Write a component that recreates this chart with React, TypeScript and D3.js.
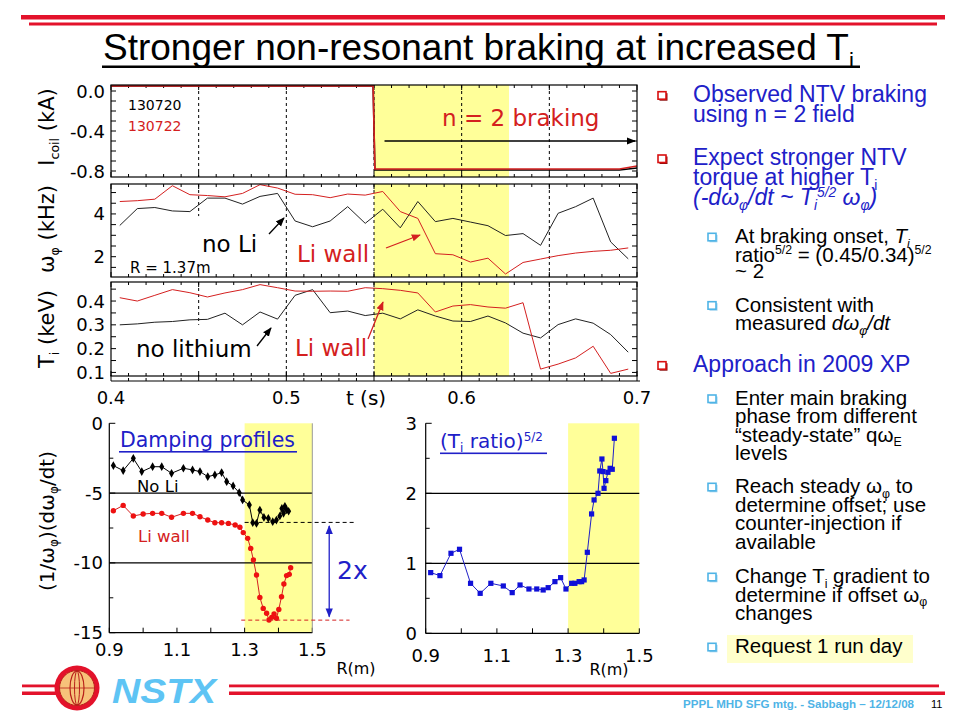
import * as d3 from "d3";

// ---- time traces (s) ----
const tTrace = [0.405, 0.415, 0.425, 0.435, 0.445, 0.455, 0.465, 0.475, 0.485, 0.495, 0.505, 0.515, 0.525, 0.535, 0.545, 0.555, 0.565, 0.575, 0.585, 0.595, 0.605, 0.615, 0.625, 0.635, 0.645, 0.655, 0.665, 0.675, 0.685, 0.695];
// omega_phi (kHz) at R = 1.37 m
const omegaNoLi = [3.46, 4.25, 4.30, 4.14, 4.11, 4.74, 4.74, 4.46, 4.82, 4.96, 3.67, 3.40, 3.67, 4.34, 3.56, 4.22, 3.35, 4.58, 3.64, 3.79, 3.62, 3.45, 2.99, 3.08, 2.53, 4.03, 4.34, 4.74, 2.69, 1.90];
const omegaLiWall = [4.58, 4.62, 4.69, 5.32, 4.90, 4.86, 4.80, 4.96, 5.37, 5.21, 4.92, 4.90, 4.76, 4.93, 4.88, 5.05, 4.11, 3.79, 2.14, 2.09, 1.75, 1.93, 1.19, 1.73, 1.89, 2.05, 2.17, 2.25, 2.30, 2.41];
// Ti (keV)
const tiNoLi = [0.300, 0.304, 0.311, 0.314, 0.321, 0.323, 0.349, 0.300, 0.354, 0.324, 0.424, 0.448, 0.351, 0.358, 0.339, 0.349, 0.325, 0.363, 0.337, 0.316, 0.314, 0.337, 0.308, 0.265, 0.245, 0.301, 0.325, 0.307, 0.259, 0.185];
const tiLiWall = [0.414, 0.400, 0.424, 0.448, 0.435, 0.417, 0.434, 0.448, 0.469, 0.456, 0.442, 0.441, 0.442, 0.441, 0.456, 0.452, 0.445, 0.434, 0.354, 0.379, 0.385, 0.375, 0.370, 0.393, 0.114, 0.135, 0.161, 0.210, 0.096, 0.114];
// coil current (kA)
const tCoil = [0.4, 0.5495, 0.5505, 0.69, 0.7];
const coil130720 = [0.05, 0.05, -0.79, -0.79, -0.77];
const coil130722 = [0.05, 0.05, -0.78, -0.78, -0.75];

const brakingWindow = [0.55, 0.627];
const guideTimes = [0.45, 0.5, 0.55, 0.6, 0.65];
const timeLabels = [0.4, 0.5, 0.6, 0.7];

// ---- radial profiles ----
const rNoLi = [0.912, 0.941, 0.971, 0.996, 1.028, 1.055, 1.084, 1.119, 1.146, 1.168, 1.191, 1.212, 1.232, 1.247, 1.266, 1.284, 1.294, 1.314, 1.324, 1.335, 1.345, 1.357, 1.370, 1.383, 1.394, 1.404, 1.410, 1.415, 1.419, 1.424, 1.430];
const dampNoLi = [-3.03, -3.39, -2.51, -3.46, -3.11, -3.11, -3.58, -3.22, -3.34, -3.46, -3.82, -3.70, -3.53, -4.18, -4.49, -4.97, -5.49, -5.85, -7.12, -7.17, -6.21, -6.74, -6.81, -7.05, -6.93, -6.64, -6.10, -6.45, -5.95, -6.20, -6.30];
const rLiWall = [0.912, 0.941, 0.971, 1.000, 1.028, 1.055, 1.084, 1.119, 1.146, 1.168, 1.191, 1.212, 1.232, 1.252, 1.272, 1.286, 1.296, 1.309, 1.318, 1.326, 1.335, 1.345, 1.355, 1.365, 1.372, 1.380, 1.387, 1.394, 1.401, 1.409, 1.416, 1.424, 1.432, 1.436];
const dampLiWall = [-6.26, -5.88, -6.64, -6.50, -6.45, -6.45, -6.73, -6.45, -6.45, -6.69, -6.93, -7.12, -7.12, -7.17, -7.28, -7.45, -7.83, -8.24, -8.96, -9.79, -10.87, -12.47, -13.26, -13.61, -14.09, -13.90, -13.66, -13.97, -13.33, -12.42, -11.51, -10.91, -10.82, -10.34];
const rRatio = [0.914, 0.940, 0.971, 0.995, 1.026, 1.053, 1.083, 1.118, 1.143, 1.165, 1.190, 1.212, 1.230, 1.244, 1.263, 1.279, 1.294, 1.310, 1.319, 1.331, 1.338, 1.345, 1.354, 1.366, 1.373, 1.384, 1.389, 1.395, 1.398, 1.401, 1.406, 1.412, 1.418, 1.424, 1.430];
const tiRatio = [0.867, 0.824, 1.143, 1.200, 0.714, 0.571, 0.714, 0.676, 0.581, 0.690, 0.633, 0.633, 0.619, 0.652, 0.738, 0.795, 0.633, 0.714, 0.714, 0.738, 0.738, 0.762, 1.157, 1.705, 1.905, 2.000, 2.319, 2.490, 2.310, 2.071, 2.181, 2.300, 2.357, 2.343, 2.786];
const profileWindow = [1.3, 1.5];
const rLabels = [0.9, 1.1, 1.3, 1.5];
const dampLabels = [0, -5, -10, -15];
const ratioLabels = [0, 1, 2, 3];

const PLOT_FONT = "DejaVu Sans, Verdana, sans-serif";
const SLIDE_FONT = "Liberation Sans, Arial, Helvetica, sans-serif";
const BLUE = "#2020c8";
const RED = "#d42020";
const SLIDE_RED = "#e3122b";
const YELLOW = "#ffff99";
const SKY = "#4fb4e6";

type Seg = { s: string; sub?: boolean; sup?: boolean; it?: boolean };

function Rich(props: any) {
    const { x = 0, y = 0, segs, size, fill = "#000", family = SLIDE_FONT, anchor = "start", transform, weight } = props;
    let level = 0;
    const spans = segs.map((g: Seg, i: number) => {
        const target = g.sub ? size * 0.22 : g.sup ? -size * 0.36 : 0;
        const dy = target - level;
        level = target;
        return (
            <tspan key={i} dy={dy} fontSize={g.sub || g.sup ? size * 0.6 : size} fontStyle={g.it ? "italic" : "normal"}>
                {g.s}
            </tspan>
        );
    });
    return (
        <text x={x} y={y} fill={fill} fontFamily={family} textAnchor={anchor} transform={transform}
            fontWeight={weight} style={{ whiteSpace: "pre" }}>
            {spans}
        </text>
    );
}

function linePath(xs: number[], ys: number[], sx: any, sy: any) {
    return d3.line<number>().x((_, i) => sx(xs[i])).y((d) => sy(d))(ys) || "";
}

const xT = d3.scaleLinear().domain([0.4, 0.7]).range([111, 637]);

const panels = [
    { top: 85, bottom: 177, domain: [-0.86, 0.06], labels: [0, -0.4, -0.8], minor: 0.1, early: null as null | number },
    { top: 184, bottom: 277, domain: [1.05, 5.4], labels: [2, 4], minor: 0.5, early: 3.9 },
    { top: 282, bottom: 376, domain: [0.085, 0.48], labels: [0.1, 0.2, 0.3, 0.4], minor: 0.05, early: 0.3 },
];
const panelScales = panels.map((p) => d3.scaleLinear().domain(p.domain).range([p.bottom, p.top]));

function TimePanel({ idx, children }: any) {
    const p = panels[idx];
    const y = panelScales[idx];
    const [x0, x1] = xT.range();
    const minors = d3.range(Math.ceil(p.domain[0] / p.minor - 1e-9), Math.floor(p.domain[1] / p.minor + 1e-9) + 1).map((k) => k * p.minor);
    const tTicks = d3.range(40, 71).map((k) => k / 100);
    return (
        <g>
            <rect x={xT(brakingWindow[0])} y={p.top} width={xT(brakingWindow[1]) - xT(brakingWindow[0])} height={p.bottom - p.top} fill={YELLOW} />
            {guideTimes.map((t) => (
                <line key={t} x1={xT(t)} x2={xT(t)} y1={p.top} y2={t === 0.45 && p.early !== null ? y(p.early) : p.bottom}
                    stroke="#000" strokeWidth={1} strokeDasharray="3,3" />
            ))}
            {minors.map((v, i) => (
                <g key={i}>
                    <line x1={x0} x2={x0 + 5} y1={y(v)} y2={y(v)} stroke="#000" />
                    <line x1={x1} x2={x1 - 5} y1={y(v)} y2={y(v)} stroke="#000" />
                </g>
            ))}
            {tTicks.map((t, i) => {
                const len = i % 5 === 0 ? 5 : 3;
                return (
                    <g key={"t" + i}>
                        <line x1={xT(t)} x2={xT(t)} y1={p.top} y2={p.top + len} stroke="#000" />
                        <line x1={xT(t)} x2={xT(t)} y1={p.bottom} y2={p.bottom - len} stroke="#000" />
                    </g>
                );
            })}
            {children}
            <rect x={x0} y={p.top} width={x1 - x0} height={p.bottom - p.top} fill="none" stroke="#000" strokeWidth={1.2} />
            {p.labels.map((v) => (
                <text key={v} x={105} y={y(v) + 6.5} textAnchor="end" fontFamily={PLOT_FONT} fontSize={18}>
                    {idx === 1 ? String(v) : v.toFixed(1)}
                </text>
            ))}
        </g>
    );
}

function Bullet({ x, y, color, shadow }: any) {
    return (
        <g>
            <rect x={x + 1.5} y={y + 1.5} width={8} height={7.5} fill={shadow} />
            <rect x={x} y={y} width={8} height={7.5} fill="#fff" stroke={color} strokeWidth={1.6} />
        </g>
    );
}

const mainLines: { y: number; segs: Seg[] }[] = [
    { y: 101.7, segs: [{ s: "Observed NTV braking" }] },
    { y: 121.7, segs: [{ s: "using n = 2 field" }] },
    { y: 165, segs: [{ s: "Expect stronger NTV" }] },
    { y: 185, segs: [{ s: "torque at higher T" }, { s: "i", sub: true }] },
    {
        y: 205, segs: [{ s: "(-d", it: true }, { s: "ω", it: true }, { s: "φ", sub: true, it: true }, { s: "/dt ~ T", it: true },
        { s: "i", sub: true, it: true }, { s: "5/2", sup: true, it: true }, { s: " ω", it: true }, { s: "φ", sub: true, it: true }, { s: ")", it: true }]
    },
    { y: 371.7, segs: [{ s: "Approach in 2009 XP" }] },
];
const mainBulletYs = [101.7, 165, 371.7];

const subLines: { y: number; segs: Seg[] }[] = [
    { y: 243.3, segs: [{ s: "At braking onset, " }, { s: "T", it: true }, { s: "i", sub: true, it: true }] },
    { y: 261.7, segs: [{ s: "ratio" }, { s: "5/2", sup: true }, { s: " = (0.45/0.34)" }, { s: "5/2", sup: true }] },
    { y: 278.3, segs: [{ s: "~ 2" }] },
    { y: 311.7, segs: [{ s: "Consistent with" }] },
    { y: 330, segs: [{ s: "measured " }, { s: "dω", it: true }, { s: "φ", sub: true, it: true }, { s: "/dt", it: true }] },
    { y: 405, segs: [{ s: "Enter main braking" }] },
    { y: 423.3, segs: [{ s: "phase from different" }] },
    { y: 441.7, segs: [{ s: "\u201csteady-state\u201d qω" }, { s: "E", sub: true }] },
    { y: 460, segs: [{ s: "levels" }] },
    { y: 493.3, segs: [{ s: "Reach steady ω" }, { s: "φ", sub: true }, { s: " to" }] },
    { y: 511.7, segs: [{ s: "determine offset; use" }] },
    { y: 530, segs: [{ s: "counter-injection if" }] },
    { y: 549, segs: [{ s: "available" }] },
    { y: 583.3, segs: [{ s: "Change T" }, { s: "i", sub: true }, { s: " gradient to" }] },
    { y: 601.7, segs: [{ s: "determine if offset ω" }, { s: "φ", sub: true }] },
    { y: 620, segs: [{ s: "changes" }] },
    { y: 653.3, segs: [{ s: "Request 1 run day" }] },
];
const subBulletYs = [243.3, 311.7, 405, 493.3, 583.3, 653.3];

export default function App() {
    // radial profile scales
    const xR1 = d3.scaleLinear().domain([0.9, 1.5]).range([109.3, 312.3]);
    const yDamp = d3.scaleLinear().domain([-15, 0]).range([632.7, 423.3]);
    const xR2 = d3.scaleLinear().domain([0.9, 1.5]).range([425.7, 639.3]);
    const yRat = d3.scaleLinear().domain([0, 3]).range([633.3, 423.3]);
    const [yC, yW, yTi] = panelScales;

    const diamond = d3.symbol().type(d3.symbolDiamond).size(22)() || "";

    return (
        <svg width={960} height={720} viewBox="0 0 960 720"
            style={{ position: "absolute", left: 0, top: 0, background: "#fff", display: "block" }}>
            <defs>
                {[["arrK", "#000"], ["arrR", RED], ["arrB", BLUE]].map(([id, c]) => (
                    <marker key={id} id={id} viewBox="0 0 10 10" refX={9} refY={5} markerWidth={7} markerHeight={7} orient="auto-start-reverse">
                        <path d="M0,1 L10,5 L0,9 Z" fill={c} />
                    </marker>
                ))}
            </defs>
            <rect width={960} height={720} fill="#fff" />

            {/* header */}
            <rect x={21} y={15} width={924} height={4.5} fill={SLIDE_RED} />
            <rect x={29} y={22.5} width={908} height={3} fill={SLIDE_RED} />
            <Rich x={103} y={60} size={37} segs={[{ s: "Stronger non-resonant braking at increased T" }, { s: "i", sub: true }]} />
            <rect x={102} y={65.5} width={758} height={2.5} fill="#000" />

            {/* time traces */}
            <TimePanel idx={0}>
                <path d={linePath(tCoil, coil130720, xT, yC)} fill="none" stroke="#000" strokeWidth={1.6} />
                <path d={linePath(tCoil, coil130722, xT, yC)} fill="none" stroke={RED} strokeWidth={1.6} />
                <text x={128} y={110} fontFamily={PLOT_FONT} fontSize={14}>130720</text>
                <text x={128} y={131} fontFamily={PLOT_FONT} fontSize={14} fill={RED}>130722</text>
                <text x={442} y={126} fontFamily={PLOT_FONT} fontSize={23} fill={RED}>n = 2 braking</text>
                <line x1={xT(0.556)} x2={xT(0.7) - 2} y1={yC(-0.5)} y2={yC(-0.5)} stroke="#000" strokeWidth={1.3} markerEnd="url(#arrK)" />
            </TimePanel>
            <TimePanel idx={1}>
                <path d={linePath(tTrace, omegaNoLi, xT, yW)} fill="none" stroke="#222" strokeWidth={1} />
                <path d={linePath(tTrace, omegaLiWall, xT, yW)} fill="none" stroke={RED} strokeWidth={1} />
                <text x={202} y={252} fontFamily={PLOT_FONT} fontSize={23}>no Li</text>
                <text x={297} y={262} fontFamily={PLOT_FONT} fontSize={23} fill={RED}>Li wall</text>
                <text x={130} y={273} fontFamily={PLOT_FONT} fontSize={15}>R = 1.37m</text>
                <line x1={269} y1={234} x2={284} y2={218} stroke="#000" strokeWidth={1.3} markerEnd="url(#arrK)" />
                <line x1={386} y1={248} x2={420} y2={235} stroke={RED} strokeWidth={1.3} markerEnd="url(#arrR)" />
            </TimePanel>
            <TimePanel idx={2}>
                <path d={linePath(tTrace, tiNoLi, xT, yTi)} fill="none" stroke="#222" strokeWidth={1} />
                <path d={linePath(tTrace, tiLiWall, xT, yTi)} fill="none" stroke={RED} strokeWidth={1} />
                <text x={136} y={357} fontFamily={PLOT_FONT} fontSize={23}>no lithium</text>
                <text x={295} y={356} fontFamily={PLOT_FONT} fontSize={23} fill={RED}>Li wall</text>
                <line x1={257} y1={346} x2={271} y2={328} stroke="#000" strokeWidth={1.3} markerEnd="url(#arrK)" />
                <line x1={368} y1={339} x2={383} y2={302} stroke={RED} strokeWidth={1.3} markerEnd="url(#arrR)" />
            </TimePanel>

            {/* time axis */}
            <line x1={111} x2={640} y1={381} y2={381} stroke="#000" strokeWidth={1.2} />
            {d3.range(40, 71).map((k, i) => (
                <line key={k} x1={xT(k / 100)} x2={xT(k / 100)} y1={381} y2={381 - (i % 5 === 0 ? 6 : 3)} stroke="#000" />
            ))}
            {timeLabels.map((t) => (
                <text key={t} x={xT(t)} y={404} textAnchor="middle" fontFamily={PLOT_FONT} fontSize={18}>{t.toFixed(1)}</text>
            ))}
            <text x={366} y={405} textAnchor="middle" fontFamily={PLOT_FONT} fontSize={20}>t (s)</text>

            {/* y axis titles of time traces */}
            <Rich transform="translate(47,127) rotate(-90)" y={7} anchor="middle" size={21} family={PLOT_FONT}
                segs={[{ s: "I" }, { s: "coil", sub: true }, { s: " (kA)" }]} />
            <Rich transform="translate(47,229) rotate(-90)" y={7} anchor="middle" size={21} family={PLOT_FONT}
                segs={[{ s: "ω" }, { s: "φ", sub: true }, { s: " (kHz)" }]} />
            <Rich transform="translate(47,329) rotate(-90)" y={7} anchor="middle" size={21} family={PLOT_FONT}
                segs={[{ s: "T" }, { s: "i", sub: true }, { s: " (keV)" }]} />

            {/* damping profiles */}
            <rect x={xR1(profileWindow[0])} y={yDamp(0)} width={xR1(profileWindow[1]) - xR1(profileWindow[0])} height={yDamp(-15) - yDamp(0)} fill={YELLOW} />
            {[-5, -10].map((v) => (
                <line key={v} x1={xR1(0.9)} x2={xR1(1.5)} y1={yDamp(v)} y2={yDamp(v)} stroke="#000" strokeWidth={1.2} />
            ))}
            {d3.range(-15, 0.1, 2.5).map((v) => (
                <line key={v} x1={xR1(0.9)} x2={xR1(0.9) + (v % 5 === 0 ? 6 : 4)} y1={yDamp(v)} y2={yDamp(v)} stroke="#000" />
            ))}
            {[0.9, 1.0, 1.1, 1.2, 1.3, 1.4, 1.5].map((r) => (
                <line key={r} x1={xR1(r)} x2={xR1(r)} y1={yDamp(-15)} y2={yDamp(-15) - 5} stroke="#000" />
            ))}
            <line x1={xR1(0.9)} x2={xR1(0.9)} y1={yDamp(0)} y2={yDamp(-15)} stroke="#000" strokeWidth={1.2} />
            <line x1={xR1(0.9)} x2={xR1(1.5)} y1={yDamp(-15)} y2={yDamp(-15)} stroke="#000" strokeWidth={1.2} />
            <line x1={xR1(1.5)} x2={xR1(1.5)} y1={yDamp(0)} y2={yDamp(-15)} stroke="#999" strokeWidth={1} />
            <path d={linePath(rNoLi, dampNoLi, xR1, yDamp)} fill="none" stroke="#000" strokeWidth={1} />
            {rNoLi.map((r, i) => (
                <path key={i} d={diamond} transform={`translate(${xR1(r)},${yDamp(dampNoLi[i])})`} fill="#000" />
            ))}
            <path d={linePath(rLiWall, dampLiWall, xR1, yDamp)} fill="none" stroke={RED} strokeWidth={1} />
            {rLiWall.map((r, i) => (
                <circle key={i} cx={xR1(r)} cy={yDamp(dampLiWall[i])} r={2.7} fill="#ee1111" />
            ))}
            <line x1={xR1(1.3)} x2={xR1(1.626)} y1={yDamp(-7.1)} y2={yDamp(-7.1)} stroke="#000" strokeDasharray="4,3" />
            <line x1={xR1(1.29)} x2={xR1(1.61)} y1={yDamp(-14.1)} y2={yDamp(-14.1)} stroke={RED} strokeDasharray="4,3" />
            <line x1={xR1(1.55)} x2={xR1(1.55)} y1={yDamp(-7.35)} y2={yDamp(-13.85)} stroke={BLUE} strokeWidth={1.3}
                markerStart="url(#arrB)" markerEnd="url(#arrB)" />
            <text x={337} y={579} fontFamily={PLOT_FONT} fontSize={25} fill={BLUE}>2x</text>
            <text x={120} y={447} fontFamily={PLOT_FONT} fontSize={20.5} fill={BLUE}>Damping profiles</text>
            <rect x={119} y={451} width={178} height={1.6} fill={BLUE} />
            <text x={137} y={492} fontFamily={PLOT_FONT} fontSize={16.5}>No Li</text>
            <text x={138} y={542} fontFamily={PLOT_FONT} fontSize={16.5} fill={RED}>Li wall</text>
            {dampLabels.map((v) => (
                <text key={v} x={103} y={yDamp(v) + 6.5} textAnchor="end" fontFamily={PLOT_FONT} fontSize={18}>{String(v)}</text>
            ))}
            {rLabels.map((r) => (
                <text key={r} x={xR1(r)} y={656} textAnchor="middle" fontFamily={PLOT_FONT} fontSize={18}>{r.toFixed(1)}</text>
            ))}
            <text x={356} y={674} textAnchor="middle" fontFamily={PLOT_FONT} fontSize={16}>R(m)</text>
            <Rich transform="translate(47,521) rotate(-90)" y={7} anchor="middle" size={20} family={PLOT_FONT}
                segs={[{ s: "(1/ω" }, { s: "φ", sub: true }, { s: ")(dω" }, { s: "φ", sub: true }, { s: "/dt)" }]} />

            {/* Ti ratio profile */}
            <rect x={xR2(profileWindow[0])} y={yRat(3)} width={xR2(profileWindow[1]) - xR2(profileWindow[0])} height={yRat(0) - yRat(3)} fill={YELLOW} />
            {[1, 2].map((v) => (
                <line key={v} x1={xR2(0.9)} x2={xR2(1.5)} y1={yRat(v)} y2={yRat(v)} stroke="#000" strokeWidth={1.2} />
            ))}
            {d3.range(0, 3.01, 0.5).map((v) => (
                <line key={v} x1={xR2(0.9)} x2={xR2(0.9) + (v % 1 === 0 ? 6 : 4)} y1={yRat(v)} y2={yRat(v)} stroke="#000" />
            ))}
            {[0.9, 1.0, 1.1, 1.2, 1.3, 1.4, 1.5].map((r) => (
                <line key={r} x1={xR2(r)} x2={xR2(r)} y1={yRat(0)} y2={yRat(0) - 5} stroke="#000" />
            ))}
            <line x1={xR2(0.9)} x2={xR2(0.9)} y1={yRat(3)} y2={yRat(0)} stroke="#000" strokeWidth={1.2} />
            <line x1={xR2(0.9)} x2={xR2(1.5)} y1={yRat(0)} y2={yRat(0)} stroke="#000" strokeWidth={1.2} />
            <path d={linePath(rRatio, tiRatio, xR2, yRat)} fill="none" stroke={BLUE} strokeWidth={1} />
            {rRatio.map((r, i) => (
                <rect key={i} x={xR2(r) - 2.6} y={yRat(tiRatio[i]) - 2.6} width={5.2} height={5.2} fill="#1010d8" />
            ))}
            <Rich x={440} y={448} size={20} family={PLOT_FONT} fill={BLUE}
                segs={[{ s: "(T" }, { s: "i", sub: true }, { s: " ratio)" }, { s: "5/2", sup: true }]} />
            <rect x={440} y={452.5} width={107} height={1.6} fill={BLUE} />
            {ratioLabels.map((v) => (
                <text key={v} x={417} y={yRat(v) + 6.5} textAnchor="end" fontFamily={PLOT_FONT} fontSize={18}>{String(v)}</text>
            ))}
            {rLabels.map((r) => (
                <text key={r} x={xR2(r)} y={662} textAnchor="middle" fontFamily={PLOT_FONT} fontSize={18}>{r.toFixed(1)}</text>
            ))}
            <text x={609} y={675} textAnchor="middle" fontFamily={PLOT_FONT} fontSize={16}>R(m)</text>

            {/* right column text */}
            <rect x={727} y={635} width={186} height={28} fill="#ffffcc" />
            {mainBulletYs.map((y) => <Bullet key={y} x={658} y={y - 10} color="#d81010" shadow="#8a0a0a" />)}
            {subBulletYs.map((y) => <Bullet key={y} x={708} y={y - 10} color={SKY} shadow="#9ad0ee" />)}
            {mainLines.map((l, i) => <Rich key={i} x={693} y={l.y} size={23} fill={BLUE} segs={l.segs} />)}
            {subLines.map((l, i) => <Rich key={i} x={735} y={l.y} size={20.5} fill="#000" segs={l.segs} />)}

            {/* footer */}
            <rect x={22} y={684.5} width={37} height={2.8} fill={SLIDE_RED} />
            <rect x={22} y={691.5} width={37} height={3.5} fill={SLIDE_RED} />
            <rect x={229} y={684.5} width={710} height={2.8} fill={SLIDE_RED} />
            <rect x={229} y={691.5} width={716} height={3.5} fill={SLIDE_RED} />
            <circle cx={77} cy={688} r={22.5} fill={SLIDE_RED} />
            <circle cx={77} cy={688} r={17.5} fill="#f7c27a" stroke="#b8201a" strokeWidth={1} />
            <ellipse cx={77} cy={688} rx={7} ry={17} fill="none" stroke="#b8201a" strokeWidth={1.2} />
            <ellipse cx={77} cy={688} rx={2.5} ry={17} fill="none" stroke="#b8201a" strokeWidth={1} />
            <line x1={60} x2={94} y1={688} y2={688} stroke="#b8201a" strokeWidth={0.8} />
            <text x={112} y={703} fontFamily={SLIDE_FONT} fontSize={35} fontWeight="bold" fontStyle="italic" fill="#5ec4f4"
                textLength={104} lengthAdjust="spacingAndGlyphs">NSTX</text>
            <text x={683} y={708} fontFamily={SLIDE_FONT} fontSize={11.5} fontWeight="bold" fill={SKY}
                textLength={231} lengthAdjust="spacingAndGlyphs">PPPL MHD SFG mtg. - Sabbagh – 12/12/08</text>
            <text x={931} y={708} fontFamily={SLIDE_FONT} fontSize={11}>11</text>
        </svg>
    );
}
